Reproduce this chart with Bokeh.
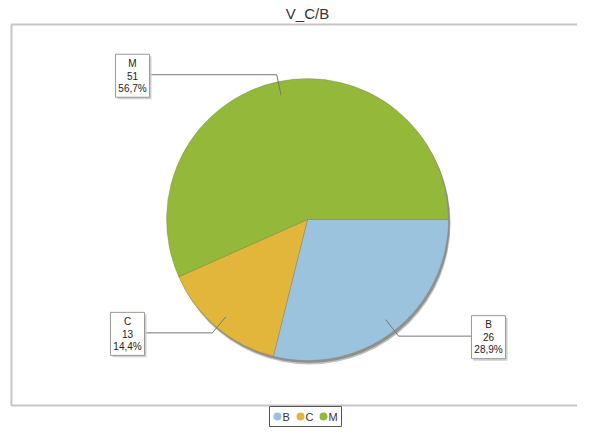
import math
from bokeh.plotting import figure
from bokeh.models import Range1d
from bokeh.core.properties import value
from bokeh.embed import file_html
from bokeh.resources import INLINE

# ---- data ----
title_text = "V_C/B"
categories = ["B", "C", "M"]
counts = [26, 13, 51]
colors = ["#9bc3dd", "#e2b53b", "#93b83a"]

# ---- layout (pixels; data units == pixels, y measured upward) ----
W, H = 577, 427
CX, CY, R = 307, 208, 141
R_IN, R_OUT = 127, 148
label_box_edge_x = [471, 144, 149]   # B (left edge), C (right edge), M (right edge)
BOX_W, BOX_H = 34, 43
FONT = value("Liberation Sans")

p = figure(width=W, height=H, x_range=Range1d(0, W), y_range=Range1d(0, H),
           output_backend="svg", toolbar_location=None, min_border=0,
           x_axis_type=None, y_axis_type=None)
p.grid.visible = False
p.outline_line_color = None
p.background_fill_color = "white"
p.border_fill_color = "white"

# frame (left, top, bottom; right side runs off the page)
p.line([W + 5, 11, 11, W + 5], [403, 403, 22, 22], line_color="#c6c6c6", line_width=2)

# title
p.text([CX], [414], text=[title_text], text_align="center", text_baseline="middle",
       text_font=FONT, text_font_size="15px", text_color="#333333")

# pie shadow
p.circle([CX + 2], [CY - 4], radius=R, fill_color="#9a9a9a", line_color=None, fill_alpha=0.6)
p.circle([CX + 1.5], [CY - 2.5], radius=R, fill_color="#7a7a7a", line_color=None, fill_alpha=0.7)

total = sum(counts)
fracs = [c / total for c in counts]
cum = [0.0]
for f in fracs:
    cum.append(cum[-1] + f)

starts = [-cum[i + 1] * 2 * math.pi for i in range(len(counts))]
ends = [-cum[i] * 2 * math.pi for i in range(len(counts))]
p.wedge(x=[CX] * len(counts), y=[CY] * len(counts), radius=R,
        start_angle=starts, end_angle=ends, direction="anticlock",
        fill_color=colors, line_color="#6f7a50", line_alpha=0.35, line_width=0.8)

# labels with leaders
for i, cat in enumerate(categories):
    mid = -(cum[i] + fracs[i] / 2) * 2 * math.pi
    ex, ey = CX + R_IN * math.cos(mid), CY + R_IN * math.sin(mid)
    kx, ky = CX + R_OUT * math.cos(mid), CY + R_OUT * math.sin(mid)
    bx = label_box_edge_x[i]
    p.line([ex, kx, bx], [ey, ky, ky], line_color="#777777", line_width=1)
    right_side = math.cos(mid) > 0
    bcx = bx + BOX_W / 2 if right_side else bx - BOX_W / 2
    bcy = ky - 1
    p.rect([bcx + 2], [bcy - 2], width=BOX_W, height=BOX_H, fill_color="#cfcfcf",
           line_color=None)
    p.rect([bcx], [bcy], width=BOX_W, height=BOX_H, fill_color="white",
           line_color="#9a9a9a", line_width=1)
    pct = f"{fracs[i] * 100:.1f}".replace(".", ",") + "%"
    lines = [cat, str(counts[i]), pct]
    p.text([bcx] * 3, [bcy + 12.5, bcy, bcy - 12.5], text=lines,
           text_align="center", text_baseline="middle", text_font=FONT,
           text_font_size="10px", text_color="#222222")

# legend
LX0, LY = 269, 11
p.rect([LX0 + 36], [LY], width=72, height=20, fill_color="white",
       line_color="#555555", line_width=1)
for i, cat in enumerate(categories):
    dx = LX0 + 8 + i * 23
    p.scatter([dx], [LY], size=8, marker="circle", fill_color=colors[i], line_color=None)
    p.text([dx + 5], [LY], text=[cat], text_align="left", text_baseline="middle",
           text_font=FONT, text_font_size="11px", text_color="#333333")

open("out.html", "w").write(file_html(p, INLINE))
